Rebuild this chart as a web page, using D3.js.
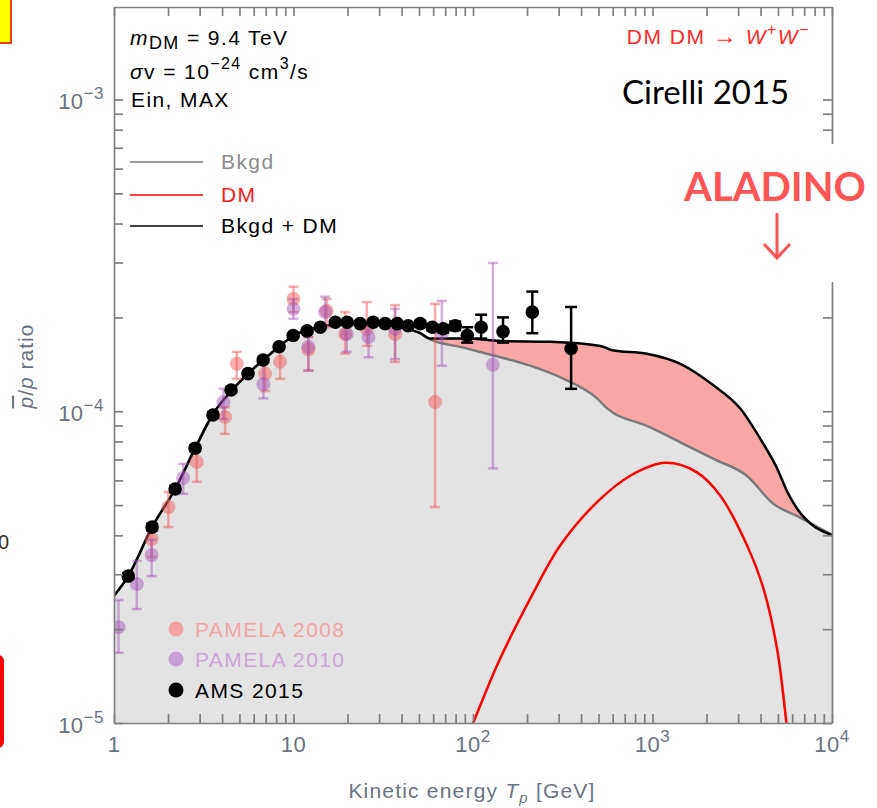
<!DOCTYPE html>
<html>
<head>
<meta charset="utf-8">
<script src="https://cdn.jsdelivr.net/npm/d3@7"></script>
<style>
body { margin: 0; background: #fff; }
svg { display: block; font-family: "Liberation Sans", Arial, sans-serif; }
</style>
</head>
<body>
<svg id="chart" width="877" height="808"></svg>
<script>
// model curves: kinetic energy T (GeV) -> pbar/p ratio
var bkgdT = [1, 1.2, 1.63, 2.19, 2.83, 3.56, 4.49, 5.58, 6.77, 8.31, 10, 11.9, 14.1, 18.2, 26.7, 39.3, 50.8, 57.7, 88.5, 130, 208, 320, 491, 560, 597, 931, 1429, 2191, 3365, 4730, 6410, 10000];
var bkgdV = [2.56e-5, 2.96e-5, 4.25e-5, 5.63e-5, 7.6e-5, 9.8e-5, 1.16e-4, 1.32e-4, 1.46e-4, 1.61e-4, 1.75e-4, 1.82e-4, 1.86e-4, 1.91e-4, 1.91e-4, 1.86e-4, 1.78e-4, 1.70e-4, 1.60e-4, 1.51e-4, 1.40e-4, 1.27e-4, 1.10e-4, 1.02e-4, 9.93e-5, 8.97e-5, 7.95e-5, 7.03e-5, 6.20e-5, 5.04e-5, 4.61e-5, 4.01e-5];

var totalT = [1, 1.2, 1.63, 2.19, 2.83, 3.56, 4.49, 5.58, 6.77, 8.31, 10, 11.9, 14.1, 18.2, 26.7, 39.3, 50.8, 57.7, 92.9, 142, 269, 512, 560, 597, 931, 1429, 2191, 3083, 3990, 4963, 5640, 6410, 7870, 10000];
var totalV = [2.56e-5, 2.96e-5, 4.25e-5, 5.63e-5, 7.6e-5, 9.8e-5, 1.16e-4, 1.32e-4, 1.46e-4, 1.61e-4, 1.75e-4, 1.82e-4, 1.86e-4, 1.91e-4, 1.91e-4, 1.86e-4, 1.78e-4, 1.71e-4, 1.71e-4, 1.68e-4, 1.67e-4, 1.62e-4, 1.59e-4, 1.57e-4, 1.53e-4, 1.42e-4, 1.21e-4, 1.02e-4, 8.15e-5, 6.53e-5, 5.51e-5, 4.86e-5, 4.29e-5, 4.01e-5];

var dmT = [95, 100.6, 136, 208, 306, 491, 752, 1178, 1770, 2387, 3365, 4160, 4943, 5570, 5700];
var dmV = [9.3e-6, 1.005e-5, 1.53e-5, 2.50e-5, 3.71e-5, 5.11e-5, 6.21e-5, 6.83e-5, 6.37e-5, 5.36e-5, 3.71e-5, 2.69e-5, 1.73e-5, 1.005e-5, 9.0e-6];

// data points (ratio in units of 1e-4)
var amsT  = [1.20, 1.63, 2.19, 2.83, 3.56, 4.49, 5.58, 6.77, 8.31, 9.96, 11.9, 14.1, 17.1, 19.9, 23.5, 27.8, 32.4, 37.8, 43.5, 50.8, 59.3, 68.2, 79.6, 92.9, 111, 147, 214, 352];
var amsV  = [0.296, 0.425, 0.563, 0.761, 0.973, 1.17, 1.32, 1.46, 1.61, 1.75, 1.81, 1.86, 1.93, 1.93, 1.91, 1.93, 1.91, 1.91, 1.88, 1.91, 1.86, 1.84, 1.88, 1.75, 1.86, 1.80, 2.08, 1.59];
var amsLo = [0.29, 0.415, 0.55, 0.745, 0.955, 1.15, 1.30, 1.44, 1.59, 1.73, 1.79, 1.84, 1.90, 1.90, 1.88, 1.90, 1.88, 1.88, 1.85, 1.87, 1.82, 1.79, 1.82, 1.66, 1.71, 1.66, 1.78, 1.18];
var amsHi = [0.302, 0.435, 0.575, 0.777, 0.99, 1.19, 1.34, 1.48, 1.63, 1.77, 1.83, 1.88, 1.96, 1.96, 1.94, 1.96, 1.94, 1.94, 1.91, 1.95, 1.90, 1.89, 1.94, 1.86, 2.04, 2.00, 2.42, 2.16];

var pam08T  = [1.62, 2.01, 2.89, 4.16, 4.83, 6.95, 8.42, 9.99, 12.1, 15.3, 19.4, 25.6, 36.8, 61.5];
var pam08V  = [0.389, 0.493, 0.688, 0.959, 1.42, 1.32, 1.44, 2.29, 1.58, 2.10, 1.77, 1.84, 1.77, 1.07];
var pam08Lo = [0.341, 0.425, 0.594, 0.846, 1.27, 1.16, 1.27, 2.08, 1.35, 1.86, 1.53, 1.62, 1.44, 0.493];
var pam08Hi = [0.435, 0.551, 0.766, 1.03, 1.55, 1.47, 1.61, 2.51, 1.73, 2.29, 2.08, 2.24, 2.19, 2.21];

var pam10T  = [1.06, 1.34, 1.62, 2.43, 4.07, 6.80, 9.99, 12.1, 15.0, 19.8, 26.2, 36.8, 67.1, 129];
var pam10V  = [0.203, 0.279, 0.346, 0.611, 1.07, 1.22, 2.13, 1.61, 2.08, 1.77, 1.73, 1.84, 1.78, 1.41];
var pam10Lo = [0.168, 0.232, 0.296, 0.543, 0.945, 1.10, 1.98, 1.35, 1.88, 1.55, 1.49, 1.47, 1.40, 0.656];
var pam10Hi = [0.248, 0.331, 0.387, 0.678, 1.18, 1.44, 2.29, 1.73, 2.33, 1.88, 1.84, 2.13, 2.26, 2.99];

// tick labels: [value, base, exponent]
var xLabels = [[1, "1", ""], [10, "10", ""], [100, "10", "2"], [1000, "10", "3"], [10000, "10", "4"]];
var yLabels = [[1e-5, "10", "\u22125"], [1e-4, "10", "\u22124"], [1e-3, "10", "\u22123"]];

var labelGray = "#6a7382";
var frameGray = "#808080";

var svg = d3.select("#chart");
var x = d3.scaleLog().domain([1, 1e4]).range([114, 832]);
var y = d3.scaleLog().domain([1e-5, 1.98e-3]).range([723, 7]);

svg.append("defs").append("clipPath").attr("id", "plotClip")
	.append("rect").attr("x", 114).attr("y", 7).attr("width", 718).attr("height", 716);

var plot = svg.append("g").attr("clip-path", "url(#plotClip)");

function pairs(T, V) { return T.map(function(t, i) { return [t, V[i]]; }); }

var line = d3.line()
	.x(function(d) { return x(d[0]); })
	.y(function(d) { return y(d[1]); })
	.curve(d3.curveMonotoneX);
var area = d3.area()
	.x(function(d) { return x(d[0]); })
	.y0(function() { return y(1e-5); })
	.y1(function(d) { return y(d[1]); })
	.curve(d3.curveMonotoneX);

// pink band = total area, then grey background area laid on top
plot.append("path").attr("d", area(pairs(totalT, totalV))).style("fill", "#f9a6a6");
plot.append("path").attr("d", area(pairs(bkgdT, bkgdV))).style("fill", "#e3e3e3");

plot.append("path").attr("d", line(pairs(bkgdT, bkgdV)))
	.style("fill", "none").style("stroke", "#7a7a7a").style("stroke-width", 2.5);
plot.append("path")
	.attr("d", d3.line().x(function(d) { return x(d[0]); }).y(function(d) { return y(d[1]); })
		.curve(d3.curveCatmullRom)(pairs(dmT, dmV)))
	.style("fill", "none").style("stroke", "#ff0000").style("stroke-width", 2.5);
plot.append("path").attr("d", line(pairs(totalT, totalV)))
	.style("fill", "none").style("stroke", "#000").style("stroke-width", 2.5);

// data sets with error bars
function drawSet(T, V, Lo, Hi, color, opacity, r, cap) {
	var data = T.map(function(t, i) { return {t: t, v: V[i] * 1e-4, lo: Lo[i] * 1e-4, hi: Hi[i] * 1e-4}; });
	var g = plot.append("g");
	var bars = g.selectAll(".err").data(data).enter().append("g")
		.style("stroke", color).style("stroke-opacity", opacity).style("stroke-width", 2.5);
	bars.append("line")
		.attr("x1", function(d) { return x(d.t); }).attr("x2", function(d) { return x(d.t); })
		.attr("y1", function(d) { return y(d.lo); }).attr("y2", function(d) { return y(d.hi); });
	bars.append("line")
		.attr("x1", function(d) { return x(d.t) - cap; }).attr("x2", function(d) { return x(d.t) + cap; })
		.attr("y1", function(d) { return y(d.lo); }).attr("y2", function(d) { return y(d.lo); });
	bars.append("line")
		.attr("x1", function(d) { return x(d.t) - cap; }).attr("x2", function(d) { return x(d.t) + cap; })
		.attr("y1", function(d) { return y(d.hi); }).attr("y2", function(d) { return y(d.hi); });
	g.selectAll("circle").data(data).enter().append("circle")
		.attr("cx", function(d) { return x(d.t); })
		.attr("cy", function(d) { return y(d.v); })
		.attr("r", r)
		.style("fill", color).style("fill-opacity", opacity);
}

drawSet(pam08T, pam08V, pam08Lo, pam08Hi, "#ee5e5e", 0.5, 7, 5);
drawSet(pam10T, pam10V, pam10Lo, pam10Hi, "#a050b2", 0.45, 7, 5);
drawSet(amsT, amsV, amsLo, amsHi, "#000", 1, 6.8, 6);

// frame ticks on all four sides
var xTicks = [], yTicks = [];
[1, 10, 100, 1000].forEach(function(d) { for (var k = 1; k < 10; k++) xTicks.push(d * k); });
xTicks.push(10000);
[1e-5, 1e-4, 1e-3].forEach(function(d) { for (var k = 1; k < 10; k++) if (d * k <= 1.98e-3) yTicks.push(d * k); });

function styleAxis(g) {
	g.selectAll("path,line").style("stroke", frameGray).style("stroke-width", 1.7);
}
svg.append("g").attr("transform", "translate(0,723)")
	.call(d3.axisBottom(x).tickValues(xTicks).tickSize(-9).tickSizeOuter(0).tickFormat("")).call(styleAxis);
svg.append("g").attr("transform", "translate(0,7)")
	.call(d3.axisTop(x).tickValues(xTicks).tickSize(-9).tickSizeOuter(0).tickFormat("")).call(styleAxis);
svg.append("g").attr("transform", "translate(114,0)")
	.call(d3.axisLeft(y).tickValues(yTicks).tickSize(-9).tickSizeOuter(0).tickFormat("")).call(styleAxis);
svg.append("g").attr("transform", "translate(832,0)")
	.call(d3.axisRight(y).tickValues(yTicks).tickSize(-9).tickSizeOuter(0).tickFormat("")).call(styleAxis);

// tick labels with superscripts
xLabels.forEach(function(l) {
	var t = svg.append("text").attr("x", x(l[0])).attr("y", 752)
		.attr("text-anchor", "middle").style("font-size", "22px").style("fill", labelGray)
		.style("letter-spacing", "0.5px");
	t.append("tspan").text(l[1]);
	if (l[2]) t.append("tspan").attr("dy", -10).style("font-size", "17px").text(l[2]);
});
yLabels.forEach(function(l) {
	var t = svg.append("text").attr("x", 104).attr("y", y(l[0]) + 10)
		.attr("text-anchor", "end").style("font-size", "22px").style("fill", labelGray)
		.style("letter-spacing", "0.5px");
	t.append("tspan").text(l[1]);
	t.append("tspan").attr("dy", -10).style("font-size", "17px").text(l[2]);
});

// axis titles
var xt = svg.append("text").attr("x", 472).attr("y", 798).attr("text-anchor", "middle")
	.style("font-size", "21px").style("fill", labelGray).style("letter-spacing", "1.2px");
xt.append("tspan").text("Kinetic energy ");
xt.append("tspan").style("font-style", "italic").text("T");
xt.append("tspan").attr("dy", 5).style("font-style", "italic").style("font-size", "15px").text("p");
xt.append("tspan").attr("dy", -5).text(" [GeV]");

var yt = svg.append("text").attr("transform", "translate(33,366) rotate(-90)").attr("text-anchor", "middle")
	.style("font-size", "21px").style("fill", labelGray).style("letter-spacing", "1px");
yt.append("tspan").style("font-style", "italic").style("text-decoration", "overline").text("p");
yt.append("tspan").text("/");
yt.append("tspan").style("font-style", "italic").text("p");
yt.append("tspan").text(" ratio");

// in-plot annotations
var ann = svg.append("g").style("font-size", "21px").style("letter-spacing", "1.4px");
var t1 = ann.append("text").attr("x", 130).attr("y", 45);
t1.append("tspan").style("font-style", "italic").text("m");
t1.append("tspan").attr("dy", 4).style("font-size", "18px").text("DM");
t1.append("tspan").attr("dy", -4).text(" = 9.4 TeV");
var t2 = ann.append("text").attr("x", 130).attr("y", 79);
t2.append("tspan").style("font-style", "italic").text("\u03c3");
t2.append("tspan").text("v = 10");
t2.append("tspan").attr("dy", -10).style("font-size", "16px").text("\u221224");
t2.append("tspan").attr("dy", 10).text(" cm");
t2.append("tspan").attr("dy", -10).style("font-size", "16px").text("3");
t2.append("tspan").attr("dy", 10).text("/s");
ann.append("text").attr("x", 131).attr("y", 107).text("Ein, MAX");

var t3 = ann.append("text").attr("x", 810).attr("y", 44).attr("text-anchor", "end")
	.style("fill", "#ff2a2a").style("letter-spacing", "1.5px");
t3.append("tspan").text("DM DM ");
t3.append("tspan").style("font-size", "24px").text("\u2192");
t3.append("tspan").text(" ");
t3.append("tspan").style("font-style", "italic").text("W");
t3.append("tspan").attr("dy", -9).style("font-size", "16px").text("+");
t3.append("tspan").attr("dy", 9).style("font-style", "italic").text("W");
t3.append("tspan").attr("dy", -9).style("font-size", "16px").text("\u2212");

// model legend
var legend = [["Bkgd", "#7a7a7a", "#8c8c8c"], ["DM", "#ff0000", "#ff1a1a"], ["Bkgd + DM", "#000", "#000"]];
var legendY = [162, 195, 226];
legend.forEach(function(l, i) {
	ann.append("line").attr("x1", 130).attr("x2", 203).attr("y1", legendY[i]).attr("y2", legendY[i])
		.style("stroke", l[1]).style("stroke-width", 1.6);
	ann.append("text").attr("x", 221).attr("y", legendY[i] + 7).style("fill", l[2]).text(l[0]);
});

// data legend
var dataLegend = [["PAMELA 2008", "#f4a3a3", "#f2a6a6"], ["PAMELA 2010", "#c9a0d6", "#cfa6d9"], ["AMS 2015", "#000", "#000"]];
var dataLegendY = [629, 659, 690];
dataLegend.forEach(function(l, i) {
	ann.append("circle").attr("cx", 176).attr("cy", dataLegendY[i]).attr("r", 7.5).style("fill", l[1]);
	ann.append("text").attr("x", 195).attr("y", dataLegendY[i] + 8).style("fill", l[2]).text(l[0]);
});

// overlay from the slide
svg.append("text").attr("x", 622).attr("y", 104)
	.style("font-family", "Lato, 'Open Sans', sans-serif").style("font-size", "33px").style("fill", "#000")
	.text("Cirelli 2015");
svg.append("rect").attr("x", 668).attr("y", 144).attr("width", 209).attr("height", 138).style("fill", "#fff");
svg.append("text").attr("x", 775).attr("y", 201).attr("text-anchor", "middle")
	.style("font-family", "Lato, 'Open Sans', sans-serif").style("font-weight", "bold")
	.style("font-size", "40px").style("fill", "#ff5555").text("ALADINO");
svg.append("path").attr("d", "M777,213 L777,257 M764,244 L777,258 L790,244")
	.style("fill", "none").style("stroke", "#ff5555").style("stroke-width", 3);

svg.append("rect").attr("x", -20).attr("y", -20).attr("width", 31).attr("height", 63)
	.style("fill", "#ffff00").style("stroke", "#f04000").style("stroke-width", 2);
svg.append("rect").attr("x", -40).attr("y", 657).attr("width", 42).attr("height", 89).attr("rx", 4)
	.style("fill", "none").style("stroke", "#ff0000").style("stroke-width", 4);
svg.append("text").attr("x", -13).attr("y", 549).style("font-size", "20px").style("fill", "#3a2a20").text("00");
</script>
</body>
</html>
